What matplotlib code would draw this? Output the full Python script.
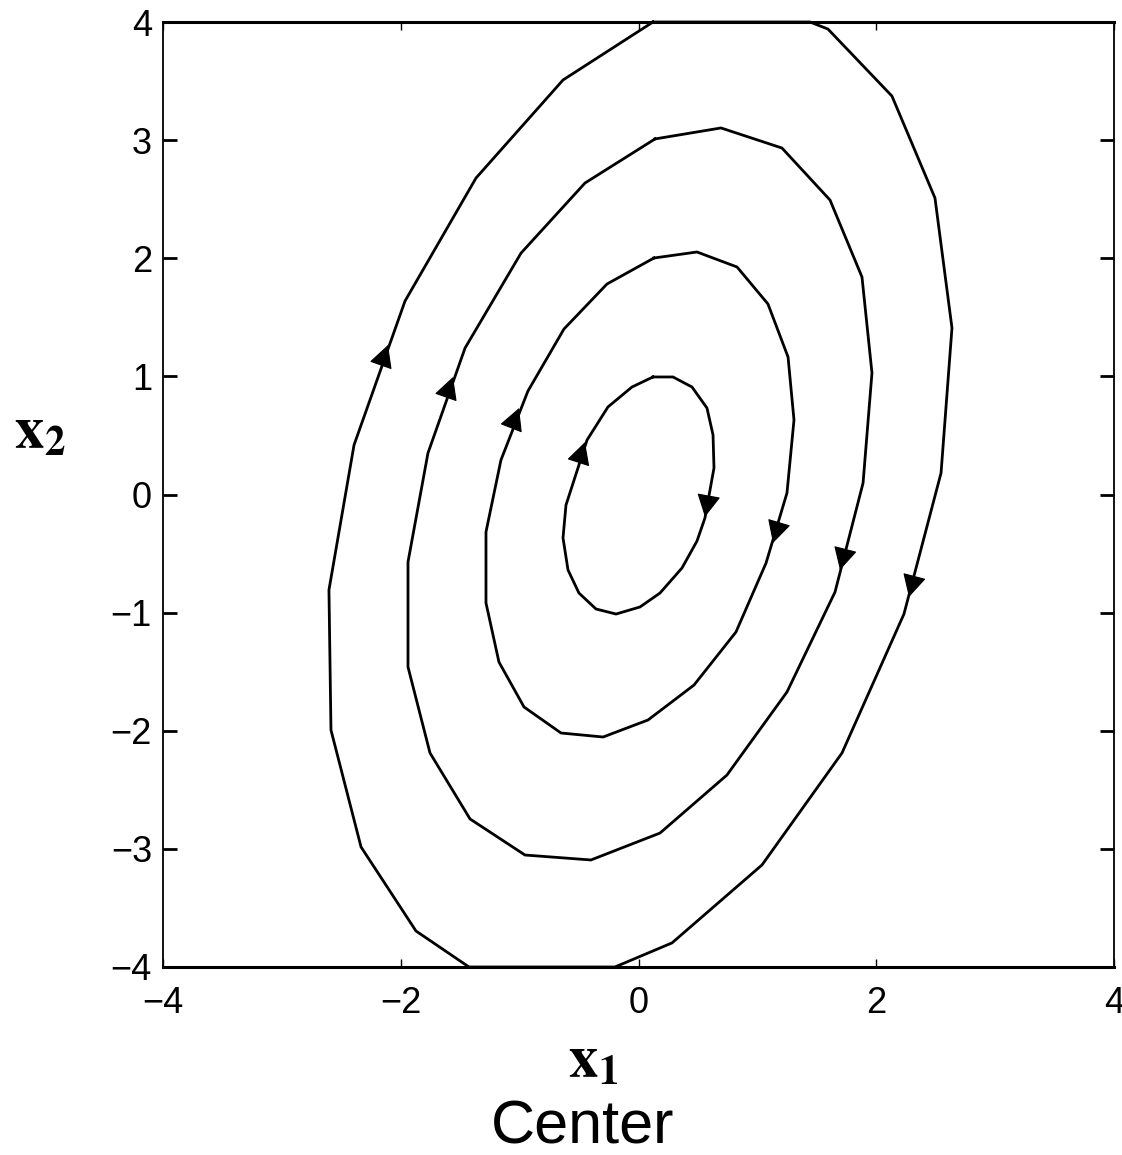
import numpy as np
import matplotlib
matplotlib.use("Agg")
import matplotlib.pyplot as plt

plt.rcParams["mathtext.fontset"] = "stix"

# Closed orbits around the center (traversed clockwise)
outer_x = [0.122, 1.443, 1.594, 2.132, 2.494, 2.637, 2.545, 2.233, 1.712, 1.039, 0.282,
           -0.198, -1.426, -1.872, -2.334, -2.587, -2.604, -2.393, -1.964, -1.367, -0.635, 0.122]
outer_y = [4.0, 4.0, 3.94, 3.373, 2.510, 1.410, 0.182, -1.012, -2.188, -3.136, -3.796,
           -4.0, -4.0, -3.695, -2.984, -1.994, -0.808, 0.419, 1.638, 2.679, 3.509, 4.0]

c3_x = [0.139, 0.694, 1.207, 1.611, 1.880, 1.964, 1.889, 1.653, 1.249, 0.744, 0.181,
        -0.400, -0.955, -1.417, -1.754, -1.939, -1.939, -1.771, -1.459, -0.988, -0.450, 0.139]
c3_y = [3.010, 3.103, 2.933, 2.493, 1.841, 1.029, 0.097, -0.826, -1.672, -2.375, -2.866,
        -3.094, -3.052, -2.747, -2.188, -1.460, -0.571, 0.351, 1.240, 2.044, 2.637, 3.010]

c2_x = [0.130, 0.492, 0.829, 1.089, 1.258, 1.308, 1.249, 1.073, 0.820, 0.467, 0.080,
        -0.298, -0.652, -0.963, -1.174, -1.283, -1.283, -1.157, -0.930, -0.627, -0.265, 0.130]
c2_y = [2.002, 2.053, 1.926, 1.613, 1.164, 0.631, 0.013, -0.580, -1.164, -1.613, -1.909,
        -2.053, -2.019, -1.799, -1.418, -0.918, -0.317, 0.292, 0.876, 1.401, 1.782, 2.002]

c1_x = [0.122, 0.290, 0.450, 0.576, 0.627, 0.635, 0.559, 0.492, 0.366, 0.181, 0.013,
        -0.189, -0.358, -0.501, -0.593, -0.635, -0.610, -0.433, -0.257, -0.055, 0.122]
c1_y = [0.995, 0.995, 0.910, 0.732, 0.504, 0.224, -0.199, -0.394, -0.622, -0.834, -0.952,
        -1.012, -0.969, -0.834, -0.639, -0.368, -0.089, 0.461, 0.741, 0.910, 0.995]

# Arrow tips on each orbit: (orbit index, x, y)
arrow_orbit = [0, 0, 1, 1, 2, 2, 3, 3]
arrow_x = [-0.450, 0.559, -1.005, 1.131, -1.560, 1.695, -2.107, 2.275]
arrow_y = [0.444, -0.190, 0.732, -0.411, 0.995, -0.639, 1.266, -0.868]

x_ticks = [-4, -2, 0, 2, 4]
y_ticks = [-4, -3, -2, -1, 0, 1, 2, 3, 4]

W, H = 1122, 1155
fig = plt.figure(figsize=(W / 100, H / 100), dpi=100)
ax = fig.add_axes([163 / W, (H - 967) / H, 951 / W, 945 / H])

orbits = [(c1_x, c1_y), (c2_x, c2_y), (c3_x, c3_y), (outer_x, outer_y)]
for ox, oy in orbits:
    ax.plot(ox, oy, color="black", lw=2.0, clip_on=False, solid_joinstyle="miter")

ax.set_xlim(-4, 4)
ax.set_ylim(-4, 4)
ax.set_xticks(x_ticks)
ax.set_yticks(y_ticks)

lab_font = {"family": "Liberation Sans", "size": 26}
ax.set_xticklabels([f"{t}".replace("-", "\u2212") for t in x_ticks], fontdict=lab_font)
ax.set_yticklabels([f"{t}".replace("-", "\u2212") for t in y_ticks], fontdict=lab_font)

ax.tick_params(axis="y", direction="in", length=10, width=2.0, left=True, right=True, pad=8)
ax.tick_params(axis="x", direction="in", length=6, width=1.0, top=True, bottom=True, pad=14)
for side in ["top", "bottom"]:
    ax.spines[side].set_linewidth(2.2)
for side in ["left", "right"]:
    ax.spines[side].set_linewidth(1.3)

# Arrowheads oriented along the local direction of travel
fig.canvas.draw()
for k, ax_x, ax_y in zip(arrow_orbit, arrow_x, arrow_y):
    ox, oy = orbits[k]
    pts = ax.transData.transform(np.column_stack([ox, oy]))
    tip = ax.transData.transform((ax_x, ax_y))
    best, best_d = 0, np.inf
    for i in range(len(pts) - 1):
        a, b = pts[i], pts[i + 1]
        ab = b - a
        t = np.clip(np.dot(tip - a, ab) / np.dot(ab, ab), 0, 1)
        d = np.linalg.norm(a + t * ab - tip)
        if d < best_d:
            best, best_d = i, d
    direc = pts[best + 1] - pts[best]
    direc = direc / np.linalg.norm(direc)
    ax.annotate("", xy=(ax_x, ax_y), xycoords="data",
                xytext=(-direc[0] * 20, -direc[1] * 20), textcoords="offset pixels",
                arrowprops=dict(arrowstyle="-|>,head_length=0.72,head_width=0.38",
                                mutation_scale=20, fc="black", ec="black", lw=0.8,
                                shrinkA=0, shrinkB=0))

fig.text(14 / W, (H - 448) / H, r"$\mathbf{x_2}$", fontsize=42, ha="left", va="baseline")
fig.text(568 / W, (H - 1077) / H, r"$\mathbf{x_1}$", fontsize=42, ha="left", va="baseline")
fig.text(583 / W, (H - 1143) / H, "Center", fontsize=44, family="Liberation Sans",
         ha="center", va="baseline")

fig.savefig("out.png", dpi=100)
